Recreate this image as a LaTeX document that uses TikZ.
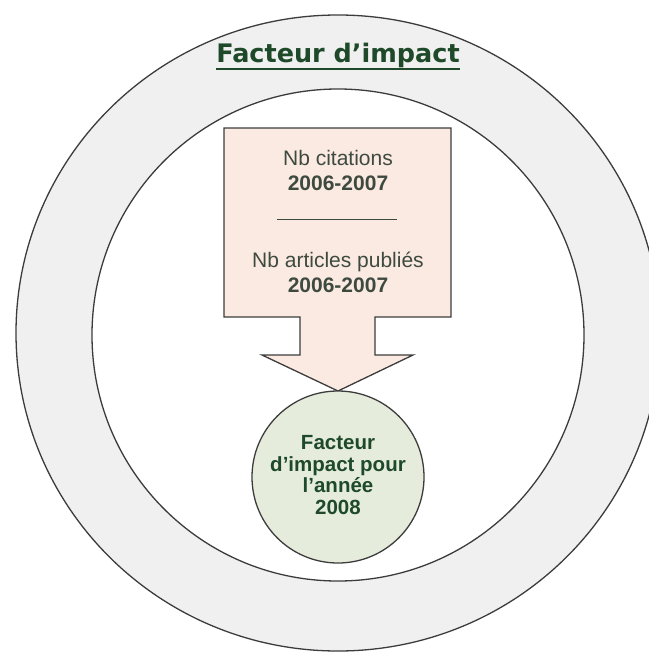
\documentclass[tikz,border=0pt]{standalone}
\usepackage{fontspec}
\setmainfont{Liberation Sans}
\newfontfamily\titlefont{DejaVu Sans}
\usepackage{xcolor}
\definecolor{ringgray}{HTML}{F0F0F0}
\definecolor{edgegray}{HTML}{3C3C3C}
\definecolor{callpink}{HTML}{FBEAE2}
\definecolor{resgreen}{HTML}{E6ECDC}
\definecolor{darkgreen}{HTML}{1E4A2A}
\definecolor{textgray}{HTML}{3E4A40}

\begin{document}
\begin{tikzpicture}[x=1pt,y=-1pt,
        edge/.style={draw=edgegray,line width=1.3pt},
        boxtext/.style={text=textgray,anchor=base,inner sep=0pt,font=\fontsize{21}{24}\selectfont},
        restext/.style={text=darkgreen,align=center,inner sep=0pt,font=\bfseries\fontsize{20.5}{21.5}\selectfont}]
        \useasboundingbox (0,0) rectangle (648,653);
        \fill[white] (0,0) rectangle (648,653);
        % rings
        \draw[edge,fill=ringgray] (338,333) ellipse [x radius=322, y radius=318];
        \draw[edge,fill=white] (338,335) circle (246);
        % callout with arrow
        \draw[edge,fill=callpink] (224,128) -- (451,128) -- (451,317) -- (375,317) -- (375,355)
                -- (413,355) -- (338,391) -- (262,355) -- (300,355) -- (300,317) -- (224,317) -- cycle;
        \node[edge,fill=resgreen,circle,minimum size=172pt,inner sep=0pt](res) at (338,477) {};
        % title
        \node[text=darkgreen,anchor=base,inner sep=0pt,font=\titlefont\bfseries\fontsize{25.5}{27}\selectfont](title) at (338,62) {Facteur d’impact};
        \draw[darkgreen,line width=2pt] ([yshift=-1.5pt]title.south west) -- ([yshift=-1.5pt]title.south east);
        % fraction
        \node[boxtext](cit) at (338,165) {Nb citations};
        \node[boxtext,font=\bfseries\fontsize{21}{24}\selectfont](cityr) at (338,190) {2006-2007};
        \coordinate(fl) at (277,219);
        \coordinate(fr) at (397,219);
        \draw[textgray,line width=0.8pt](fl)--(fr);
        \node[boxtext](art) at (338,267) {Nb articles publiés};
        \node[boxtext,font=\bfseries\fontsize{21}{24}\selectfont](artyr) at (338,292) {2006-2007};
        \node[restext](restxt) at (338,475) {Facteur\\d’impact pour\\l’année\\2008};
\end{tikzpicture}
\end{document}
